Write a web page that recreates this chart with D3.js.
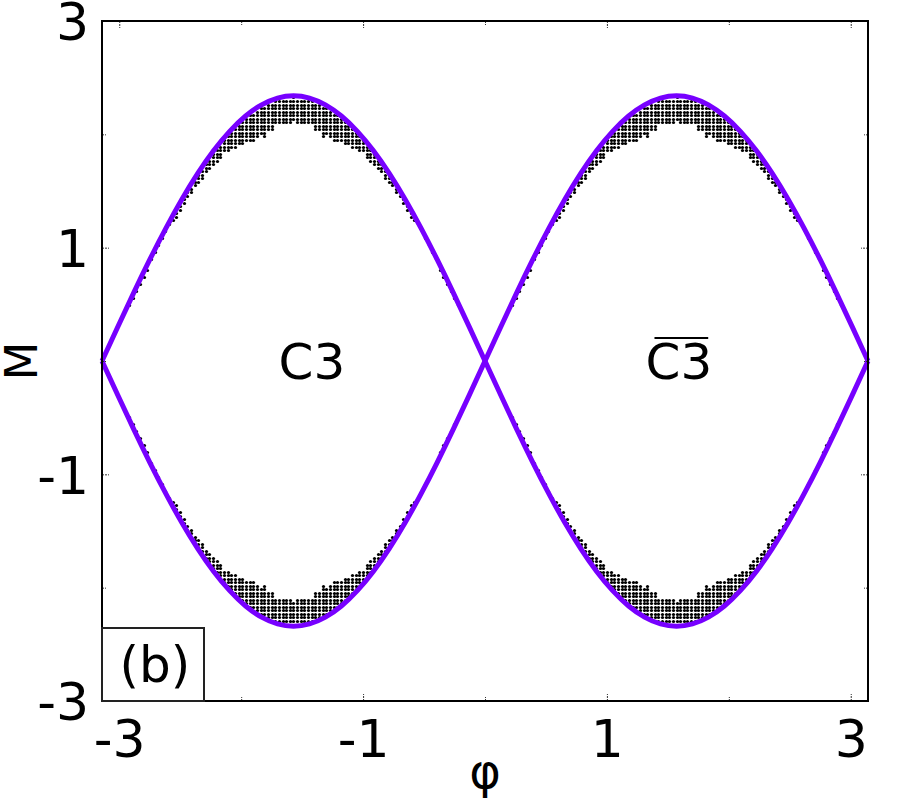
<!DOCTYPE html>
<html>
<head>
<meta charset="utf-8">
<script src="https://cdn.jsdelivr.net/npm/d3@7"></script>
<style>
  body { margin: 0; background: #fff; }
  text { font-family: "DejaVu Sans", sans-serif; fill: #000; }
</style>
</head>
<body>
<script>
// boundary curve M(phi), read at phi = -pi .. pi in steps of pi/24 (the second curve is its mirror)
const boundM = [0, 0.305, 0.606, 0.896, 1.170, 1.425, 1.655, 1.857, 2.026, 2.162, 2.260, 2.320, 2.340,
  2.320, 2.260, 2.162, 2.026, 1.857, 1.655, 1.425, 1.170, 0.896, 0.606, 0.305, 0,
  -0.305, -0.606, -0.896, -1.170, -1.425, -1.655, -1.857, -2.026, -2.162, -2.260, -2.320, -2.340,
  -2.320, -2.260, -2.162, -2.026, -1.857, -1.655, -1.425, -1.170, -0.896, -0.606, -0.305, 0];

// dot band: number of dots per column, counted outward from the hump centre
const dotCounts = [7, 7, 7, 7, 7, 7, 8, 8, 9, 8, 8, 8, 8, 7, 7, 6, 6, 5, 5, 4, 4, 4, 4, 3, 3, 3, 3,
  2, 2, 2, 2, 2, 2, 1, 1, 1, 1, 1, 1, 1, 1, 1, 1, 1, 1, 1];
const humpPhi = [-1.5708, -1.5708, 1.5708, 1.5708];
const humpSign = [1, -1, 1, -1];
const dotStepPhi = 0.03, dotStepM = 0.031;

const xTicks = [-3, -1, 1, 3], xMinor = [-2, 0, 2];
const yTicks = [-3, -1, 1, 3], yMinor = [-2, 0, 2];

const regionText = ["C3", "C3"];
const regionPhi = [-1.42, 1.59];
const regionBar = [false, true];

let svg, x, y;
const W = 900, H = 800;
const box = {left: 102, right: 868, top: 21, bottom: 701};

setupSvg();
setupScales();
drawDots();
drawCurves();
drawFrameAndAxes();
drawLabels();

function setupSvg() {
  svg = d3.select("body").append("svg")
    .attr("width", W)
    .attr("height", H);
}

function setupScales() {
  x = d3.scaleLinear().domain([-Math.PI, Math.PI]).range([box.left, box.right]);
  y = d3.scaleLinear().domain([-3, 3]).range([box.bottom, box.top]);
}

function drawDots() {
  const phiKnots = boundM.map((d, i) => -Math.PI + i * Math.PI / 24);
  const env = d3.scaleLinear().domain(phiKnots).range(boundM.map(Math.abs));
  const dots = [];
  humpPhi.forEach((c, h) => {
    const n = dotCounts.length;
    for (let k = -(n - 1); k < n; k++) {
      const phi = c + k * dotStepPhi;
      const top = Math.floor((env(phi) - 0.012) / dotStepM);
      for (let j = 0; j < dotCounts[Math.abs(k)]; j++) {
        if (top - j <= 0) break;
        dots.push({phi: phi, m: humpSign[h] * (top - j) * dotStepM});
      }
    }
  });
  // snap to pixel centres so the dots stay crisp, like the raster original
  svg.append("g").selectAll("circle")
    .data(dots)
    .enter().append("circle")
      .attr("cx", d => Math.round(x(d.phi)) + 0.5)
      .attr("cy", d => Math.round(y(d.m)) + 0.5)
      .attr("r", 1.6)
      .attr("fill", "#000");
}

function drawCurves() {
  const phiKnots = boundM.map((d, i) => -Math.PI + i * Math.PI / 24);
  const line = d3.line()
    .x((d, i) => x(phiKnots[i]))
    .y(d => y(d))
    .curve(d3.curveNatural);
  [boundM, boundM.map(v => -v)].forEach(series => {
    svg.append("path")
      .attr("d", line(series))
      .attr("fill", "none")
      .attr("stroke", "#7700ff")
      .attr("stroke-width", 5);
  });
}

function styleTicks(g) {
  g.select(".domain").remove();
  g.selectAll(".tick line")
    .attr("stroke", "#333")
    .attr("stroke-width", 1)
    .attr("stroke-dasharray", "2,1");
  g.selectAll(".tick text")
    .style("font-size", "52px")
    .style("font-family", "DejaVu Sans");
}

function drawFrameAndAxes() {
  const fmt = d => String(d);
  svg.append("g").attr("transform", `translate(0,${box.bottom})`)
    .call(d3.axisBottom(x).tickValues(xTicks).tickSize(-7).tickPadding(19).tickFormat(fmt))
    .call(styleTicks);
  svg.append("g").attr("transform", `translate(${box.left},0)`)
    .call(d3.axisLeft(y).tickValues(yTicks).tickSize(-7).tickPadding(13).tickFormat(fmt))
    .call(styleTicks)
    .selectAll(".tick text").attr("dy", "0.36em");
  svg.append("g").attr("transform", `translate(0,${box.top})`)
    .call(d3.axisTop(x).tickValues(xTicks).tickSize(-7).tickFormat(""))
    .call(styleTicks);
  svg.append("g").attr("transform", `translate(${box.right},0)`)
    .call(d3.axisRight(y).tickValues(yTicks).tickSize(-7).tickFormat(""))
    .call(styleTicks);
  // minor ticks
  svg.append("g").attr("transform", `translate(0,${box.bottom})`)
    .call(d3.axisBottom(x).tickValues(xMinor).tickSize(-4).tickFormat("")).call(styleTicks);
  svg.append("g").attr("transform", `translate(0,${box.top})`)
    .call(d3.axisTop(x).tickValues(xMinor).tickSize(-4).tickFormat("")).call(styleTicks);
  svg.append("g").attr("transform", `translate(${box.left},0)`)
    .call(d3.axisLeft(y).tickValues(yMinor).tickSize(-4).tickFormat("")).call(styleTicks);
  svg.append("g").attr("transform", `translate(${box.right},0)`)
    .call(d3.axisRight(y).tickValues(yMinor).tickSize(-4).tickFormat("")).call(styleTicks);

  svg.append("rect")
    .attr("x", box.left).attr("y", box.top)
    .attr("width", box.right - box.left).attr("height", box.bottom - box.top)
    .attr("fill", "none").attr("stroke", "#000").attr("stroke-width", 2);
}

function drawLabels() {
  // axis titles
  svg.append("text")
    .attr("x", (box.left + box.right) / 2).attr("y", 788)
    .attr("text-anchor", "middle")
    .style("font-size", "48px")
    .text("φ");
  svg.append("text")
    .attr("transform", `translate(37,${y(0)}) rotate(-90)`)
    .attr("text-anchor", "middle")
    .style("font-size", "45px")
    .text("M");

  // region names
  regionText.forEach((t, i) => {
    const lbl = svg.append("text")
      .attr("x", x(regionPhi[i])).attr("y", y(0))
      .attr("dy", "0.36em")
      .attr("text-anchor", "middle")
      .style("font-size", "50px")
      .text(t);
    if (regionBar[i]) {
      const b = lbl.node().getBBox();
      svg.append("line")
        .attr("x1", b.x + 9).attr("x2", b.x + b.width - 4)
        .attr("y1", b.y + 5).attr("y2", b.y + 5)
        .attr("stroke", "#000").attr("stroke-width", 2);
    }
  });

  // panel tag
  svg.append("rect")
    .attr("x", box.left).attr("y", box.bottom - 73)
    .attr("width", 102).attr("height", 73)
    .attr("fill", "#fff").attr("stroke", "#222").attr("stroke-width", 2);
  svg.append("text")
    .attr("x", box.left + 53).attr("y", box.bottom - 19)
    .attr("text-anchor", "middle")
    .style("font-size", "50px")
    .text("(b)");
}
</script>
</body>
</html>
